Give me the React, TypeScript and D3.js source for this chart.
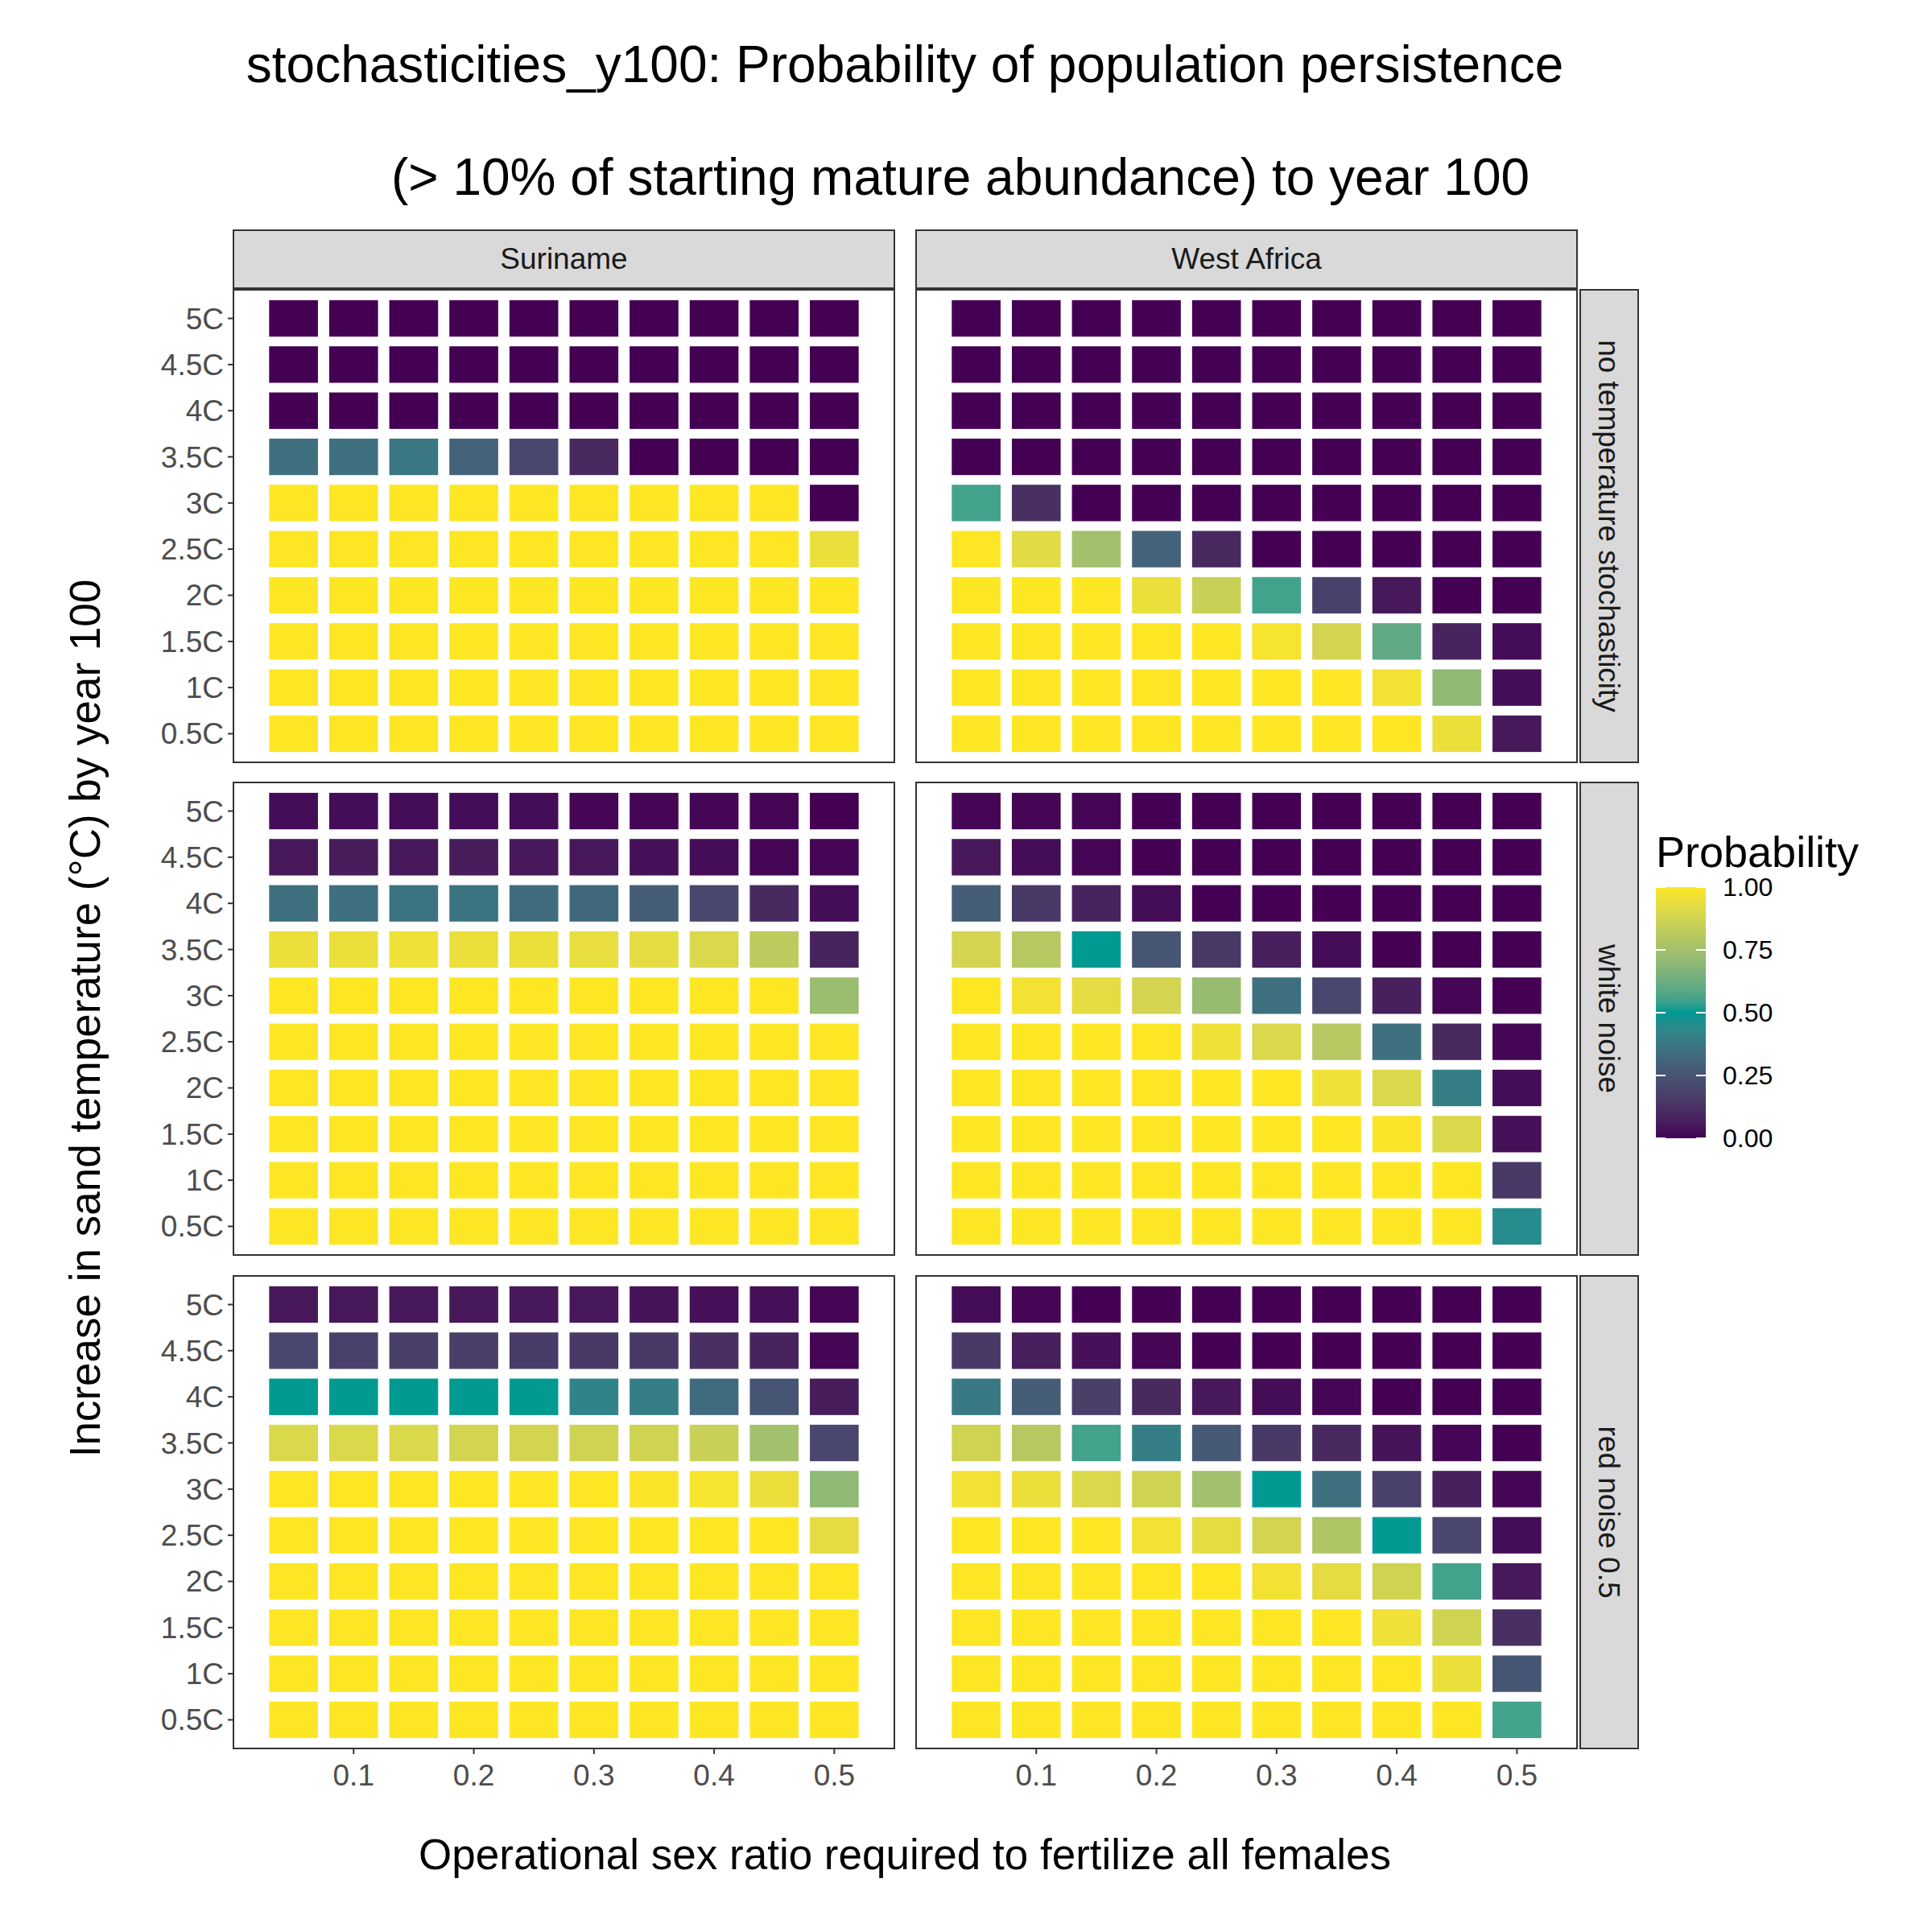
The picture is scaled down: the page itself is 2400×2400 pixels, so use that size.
import * as d3 from "d3";

const temps = ["5C", "4.5C", "4C", "3.5C", "3C", "2.5C", "2C", "1.5C", "1C", "0.5C"];
const ratios = [0.05, 0.1, 0.15, 0.2, 0.25, 0.3, 0.35, 0.4, 0.45, 0.5];
const regions = ["Suriname", "West Africa"];
const noises = ["no temperature stochasticity", "white noise", "red noise 0.5"];
const xTicks = [0.1, 0.2, 0.3, 0.4, 0.5];
const legendTicks = [0, 0.25, 0.5, 0.75, 1];

const ones = [1, 1, 1, 1, 1, 1, 1, 1, 1, 1];
const zeros = [0, 0, 0, 0, 0, 0, 0, 0, 0, 0];

// rows follow temps (5C first)
const surNone = [
  zeros, zeros, zeros,
  [0.35, 0.35, 0.37, 0.3, 0.2, 0.1, 0, 0, 0, 0],
  [1, 1, 1, 1, 1, 1, 1, 1, 1, 0],
  [1, 1, 1, 1, 1, 1, 1, 1, 1, 0.95],
  ones, ones, ones, ones,
];
const waNone = [
  zeros, zeros, zeros, zeros,
  [0.55, 0.12, 0, 0, 0, 0, 0, 0, 0, 0],
  [1, 0.92, 0.75, 0.3, 0.1, 0, 0, 0, 0, 0],
  [1, 1, 1, 0.95, 0.85, 0.55, 0.18, 0.05, 0, 0],
  [1, 1, 1, 1, 1, 0.98, 0.88, 0.6, 0.08, 0.02],
  [1, 1, 1, 1, 1, 1, 1, 0.97, 0.7, 0.02],
  [1, 1, 1, 1, 1, 1, 1, 1, 0.95, 0.05],
];
const surWhite = [
  [0.02, 0.02, 0.02, 0.02, 0.02, 0.01, 0.01, 0.01, 0.01, 0],
  [0.05, 0.06, 0.05, 0.06, 0.05, 0.05, 0.03, 0.02, 0.01, 0.01],
  [0.35, 0.35, 0.36, 0.36, 0.34, 0.32, 0.28, 0.2, 0.1, 0.02],
  [0.95, 0.95, 0.96, 0.95, 0.95, 0.94, 0.93, 0.9, 0.82, 0.08],
  [1, 1, 1, 1, 1, 1, 1, 1, 1, 0.73],
  ones, ones, ones, ones, ones,
];
const waWhite = [
  [0.01, 0.01, 0.01, 0, 0, 0, 0, 0, 0, 0],
  [0.05, 0.02, 0.01, 0, 0, 0, 0, 0, 0, 0],
  [0.28, 0.15, 0.08, 0.02, 0, 0, 0, 0, 0, 0],
  [0.88, 0.8, 0.5, 0.25, 0.15, 0.07, 0.02, 0, 0, 0],
  [1, 0.97, 0.93, 0.88, 0.72, 0.35, 0.2, 0.07, 0.01, 0],
  [1, 1, 1, 1, 0.96, 0.9, 0.8, 0.35, 0.1, 0.01],
  [1, 1, 1, 1, 1, 1, 0.96, 0.9, 0.4, 0.02],
  [1, 1, 1, 1, 1, 1, 1, 0.99, 0.9, 0.03],
  [1, 1, 1, 1, 1, 1, 1, 1, 1, 0.15],
  [1, 1, 1, 1, 1, 1, 1, 1, 1, 0.45],
];
const surRed = [
  [0.05, 0.05, 0.05, 0.05, 0.05, 0.05, 0.04, 0.03, 0.03, 0.01],
  [0.2, 0.18, 0.17, 0.17, 0.16, 0.15, 0.15, 0.12, 0.08, 0.01],
  [0.5, 0.5, 0.5, 0.5, 0.5, 0.42, 0.4, 0.33, 0.25, 0.06],
  [0.9, 0.9, 0.9, 0.88, 0.88, 0.87, 0.87, 0.85, 0.75, 0.2],
  [1, 1, 1, 1, 1, 1, 0.99, 0.98, 0.95, 0.7],
  [1, 1, 1, 1, 1, 1, 1, 1, 1, 0.93],
  ones, ones, ones, ones,
];
const waRed = [
  [0.02, 0.01, 0, 0, 0, 0, 0, 0, 0, 0],
  [0.15, 0.07, 0.03, 0.01, 0, 0, 0, 0, 0, 0],
  [0.38, 0.28, 0.17, 0.1, 0.05, 0.02, 0.01, 0, 0, 0],
  [0.87, 0.8, 0.55, 0.4, 0.27, 0.15, 0.1, 0.04, 0.01, 0],
  [0.97, 0.95, 0.9, 0.87, 0.75, 0.5, 0.35, 0.18, 0.07, 0.01],
  [1, 1, 1, 0.97, 0.93, 0.88, 0.78, 0.5, 0.2, 0.02],
  [1, 1, 1, 1, 1, 0.97, 0.93, 0.87, 0.55, 0.05],
  [1, 1, 1, 1, 1, 1, 1, 0.96, 0.87, 0.12],
  [1, 1, 1, 1, 1, 1, 1, 1, 0.95, 0.25],
  [1, 1, 1, 1, 1, 1, 1, 1, 1, 0.55],
];
const grids = [
  [surNone, waNone],
  [surWhite, waWhite],
  [surRed, waRed],
];

const color = d3.scaleLinear<string>()
  .domain([0, 0.5, 1])
  .range(["#440154", "#009a93", "#fde725"])
  .interpolate(d3.interpolateLab);

const colX = [290, 1138];
const panelW = 821;
const rowY = [360, 972, 1585];
const panelH = 587;
const font = "Arial, 'Liberation Sans', sans-serif";

export default function App() {
  const x = d3.scaleLinear().domain([0, 0.55]).range([0, panelW]);
  const y = d3.scaleBand().domain(temps).range([0, panelH]).paddingOuter(0.12).paddingInner(0);
  const tw = x(0.05) - x(0) - 14;
  const th = y.bandwidth() - 12;
  const legY = d3.scaleLinear().domain([0, 1]).range([1414, 1102]);
  const stops = d3.range(0, 1.001, 0.05);

  return (
    <svg width={2400} height={2400} style={{ position: "absolute", left: 0, top: 0, display: "block", fontFamily: font }}>
      <defs>
        <linearGradient id="lg" x1="0" y1="1" x2="0" y2="0">
          {stops.map((s) => <stop key={s} offset={s} stopColor={color(s)} />)}
        </linearGradient>
      </defs>
      <rect width={2400} height={2400} fill="white" />
      <text x={1124} y={102} fontSize={64} textAnchor="middle">stochasticities_y100: Probability of population persistence</text>
      <text x={1193} y={242} fontSize={64} textAnchor="middle">(&gt; 10% of starting mature abundance) to year 100</text>

      {regions.map((r, c) => (
        <g key={r} transform={`translate(${colX[c]},286)`}>
          <rect width={panelW} height={72} fill="#d9d9d9" stroke="#333" strokeWidth={2} />
          <text x={panelW / 2} y={48} fontSize={37} textAnchor="middle" fill="#1a1a1a">{r}</text>
        </g>
      ))}
      {noises.map((n, ri) => (
        <g key={n} transform={`translate(1963,${rowY[ri]})`}>
          <rect width={72} height={panelH} fill="#d9d9d9" stroke="#333" strokeWidth={2} />
          <text transform={`translate(23,${panelH / 2}) rotate(90)`} fontSize={37} textAnchor="middle" fill="#1a1a1a">{n}</text>
        </g>
      ))}

      {grids.map((row, ri) => row.map((grid, c) => (
        <g key={`${ri}-${c}`} transform={`translate(${colX[c]},${rowY[ri]})`}>
          {grid.map((vals, ti) => vals.map((v, k) => (
            <rect key={k} x={x(ratios[k]) - tw / 2} y={(y(temps[ti]) ?? 0) + 6}
              width={tw} height={th} fill={color(v)} />
          )))}
          <rect width={panelW} height={panelH} fill="none" stroke="#333" strokeWidth={2} />
          {c === 0 && temps.map((t) => (
            <g key={t}>
              <line x1={-7} x2={0} y1={(y(t) ?? 0) + y.bandwidth() / 2} y2={(y(t) ?? 0) + y.bandwidth() / 2} stroke="#333" strokeWidth={2} />
              <text x={-12} y={(y(t) ?? 0) + y.bandwidth() / 2 + 13} fontSize={37} textAnchor="end" fill="#4d4d4d">{t}</text>
            </g>
          ))}
          {ri === 2 && xTicks.map((t) => (
            <g key={t}>
              <line x1={x(t)} x2={x(t)} y1={panelH} y2={panelH + 7} stroke="#333" strokeWidth={2} />
              <text x={x(t)} y={panelH + 46} fontSize={37} textAnchor="middle" fill="#4d4d4d">{t}</text>
            </g>
          ))}
        </g>
      )))}

      <text x={1124} y={2322} fontSize={53} textAnchor="middle">Operational sex ratio required to fertilize all females</text>
      <text transform="translate(124,1265) rotate(-90)" fontSize={53} textAnchor="middle">Increase in sand temperature (°C) by year 100</text>

      <text x={2057} y={1077} fontSize={54}>Probability</text>
      <rect x={2057} y={1102} width={62} height={312} fill="url(#lg)" />
      {legendTicks.map((t) => (
        <g key={t}>
          <line x1={2057} x2={2069} y1={legY(t)} y2={legY(t)} stroke="white" strokeWidth={2} />
          <line x1={2107} x2={2119} y1={legY(t)} y2={legY(t)} stroke="white" strokeWidth={2} />
          <text x={2140} y={legY(t) + 11} fontSize={32}>{t.toFixed(2)}</text>
        </g>
      ))}
    </svg>
  );
}
